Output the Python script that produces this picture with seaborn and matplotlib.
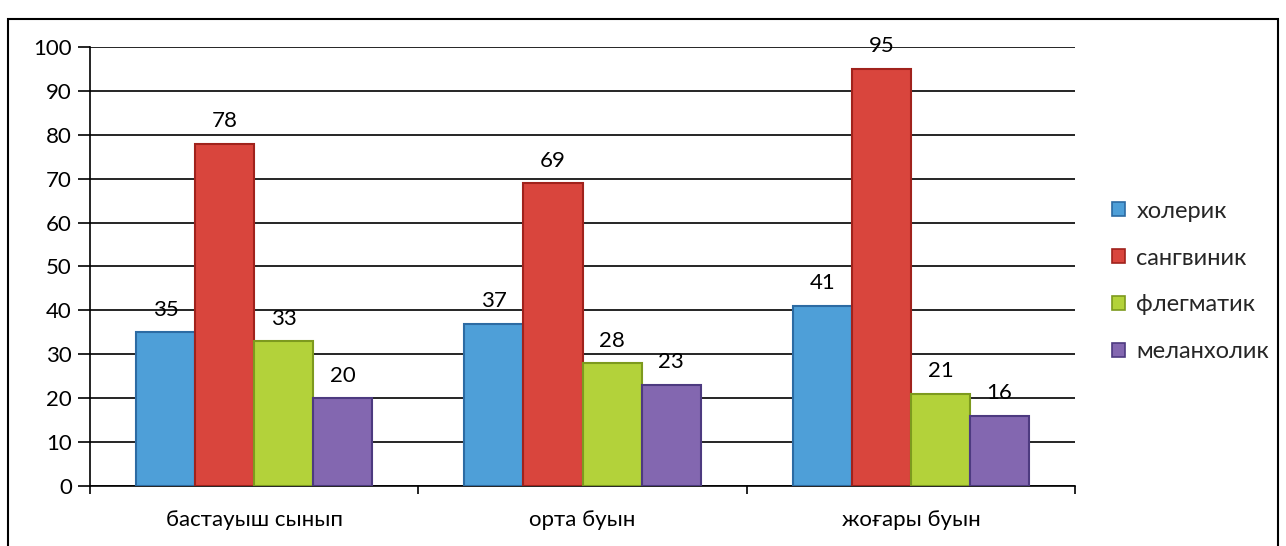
import matplotlib
matplotlib.use("Agg")
import matplotlib.pyplot as plt
from matplotlib.patches import Rectangle, Patch
import seaborn as sns
import pandas as pd

# categories and series
groups = ["бастауыш сынып", "орта буын", "жоғары буын"]
types = ["холерик", "сангвиник", "флегматик", "меланхолик"]
choleric = [35, 37, 41]
sanguine = [78, 69, 95]
phlegmatic = [33, 28, 21]
melancholic = [20, 23, 16]

fill_colors = ["#4E9FD8", "#D9453D", "#B3D23A", "#8367B0"]
edge_colors = ["#2C6BA3", "#A0221C", "#7D9A1E", "#4D3A80"]

sns.set_theme(style="white")
plt.rcParams["font.family"] = ["Lato", "DejaVu Sans"]

rows = []
for name, vals in zip(types, [choleric, sanguine, phlegmatic, melancholic]):
    for g, v in zip(groups, vals):
        rows.append({"group": g, "type": name, "value": v})
df = pd.DataFrame(rows)

fig = plt.figure(figsize=(12.86, 5.46), dpi=100)
ax = fig.add_axes([0.070, 0.110, 0.766, 0.804])

sns.barplot(data=df, x="group", y="value", hue="type", order=groups,
            hue_order=types, palette=fill_colors, saturation=1, width=0.72,
            gap=0, linewidth=1.5, errorbar=None, legend=False, ax=ax,
            zorder=3)

for cont, ec in zip(ax.containers, edge_colors):
    for bar in cont:
        bar.set_edgecolor(ec)
    ax.bar_label(cont, padding=9, fontsize=16, color="black")

ax.set_ylim(0, 100)
ax.set_xlim(-0.5, 2.5)
ax.set_yticks(range(0, 101, 10))
ax.yaxis.grid(True, color="black", linewidth=1.2)
ax.set_axisbelow(True)
ax.set_xlabel("")
ax.set_ylabel("")
ax.tick_params(axis="y", labelsize=16, length=9, width=1.2, color="black",
               left=True, pad=4, labelcolor="black")
ax.tick_params(axis="x", which="major", labelsize=16, length=0, pad=17,
               labelcolor="black")
ax.set_xticks([-0.5, 0.5, 1.5, 2.5], minor=True)
ax.tick_params(axis="x", which="minor", length=6, width=1.2, color="black",
               bottom=True)
for side in ["top", "right"]:
    ax.spines[side].set_visible(False)
for side in ["left", "bottom"]:
    ax.spines[side].set_color("black")
    ax.spines[side].set_linewidth(1.2)

handles = [Patch(facecolor=c, edgecolor=e, linewidth=1.2)
           for c, e in zip(fill_colors, edge_colors)]
fig.legend(handles, types, loc="upper left", bbox_to_anchor=(0.857, 0.65),
           frameon=False, fontsize=17, handlelength=0.55, handleheight=0.55,
           handletextpad=0.5, labelspacing=1.1, borderaxespad=0)

fig.patches.append(Rectangle((0.006, -0.01), 0.988, 0.975,
                             transform=fig.transFigure, fill=False,
                             edgecolor="black", linewidth=1.5))

fig.savefig("out.png", dpi=100, facecolor="white")
